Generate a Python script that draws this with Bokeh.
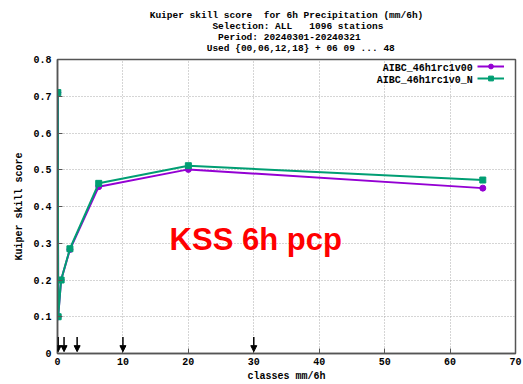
from bokeh.plotting import figure
from bokeh.models import (Range1d, FixedTicker, Title, Label, Arrow, NormalHead,
                          Legend, LegendItem)
from bokeh.embed import file_html
from bokeh.resources import INLINE

# ---- data ----
classes = [0.05, 0.1, 0.55, 1.9, 6.3, 20, 65]
kss_v00 = [0.71, 0.10, 0.20, 0.283, 0.454, 0.501, 0.450]
kss_v0N = [0.71, 0.10, 0.20, 0.285, 0.463, 0.511, 0.472]
thresholds = [0.1, 1, 3, 10, 30]
series_names = ["AIBC_46h1rc1v00", "AIBC_46h1rc1v0_N"]
title_lines = ["Kuiper skill score  for 6h Precipitation (mm/6h)",
               "Selection: ALL   1096 stations",
               "Period: 20240301-20240321",
               "Used {00,06,12,18} + 06 09 ... 48"]
title_indent = [0, 11, 12, 10]
x_ticks = [0, 10, 20, 30, 40, 50, 60, 70]
y_ticks = [0, 0.1, 0.2, 0.3, 0.4, 0.5, 0.6, 0.7, 0.8]

MONO = "Liberation Mono"
purple = "#9400d3"
green = "#009e73"

p = figure(width=523, height=384, output_backend="svg", toolbar_location=None,
           x_range=Range1d(0, 70), y_range=Range1d(0, 0.8),
           min_border_left=57, min_border_right=8, min_border_top=59,
           min_border_bottom=30)
p.background_fill_color = "white"
p.border_fill_color = "white"
p.outline_line_color = "#555555"
p.outline_line_width = 1.5

width = max(len(s) for s in title_lines)
block = "\n".join(("\u00a0" * n + s).ljust(width, " ").replace(" ", "\u00a0")
                  for n, s in zip(title_indent, title_lines))
t = Title(text=block, align="center", text_font=MONO, text_font_size="9.5px",
          text_font_style="bold", text_color="black", standoff=12,
          text_line_height=1.0)
p.add_layout(t, "above")

for ax in (p.xaxis[0], p.yaxis[0]):
    ax.major_tick_in = 5
    ax.major_tick_out = 0
    ax.minor_tick_in = 0
    ax.minor_tick_out = 0
    ax.axis_line_color = "#555555"
    ax.axis_line_width = 1.5
    ax.major_tick_line_color = "#555555"
    ax.major_label_text_font = MONO
    ax.major_label_text_font_style = "bold"
    ax.major_label_text_font_size = "10px"
    ax.major_label_text_color = "black"
    ax.axis_label_text_font = MONO
    ax.axis_label_text_font_style = "bold"
    ax.axis_label_text_font_size = "10px"
    ax.axis_label_text_color = "black"

p.xaxis.ticker = FixedTicker(ticks=x_ticks)
p.yaxis.ticker = FixedTicker(ticks=y_ticks)
p.yaxis.major_label_overrides = {0: "0"}
p.xaxis.axis_label = "classes mm/6h"
p.yaxis.axis_label = "Kuiper skill score"
p.xaxis.major_label_standoff = 4
p.xaxis.axis_label_standoff = 3
p.yaxis.major_label_standoff = 6
p.yaxis.axis_label_standoff = 5

p.grid.grid_line_color = "#aaaaaa"
p.grid.grid_line_dash = "1 2"
p.grid.grid_line_width = 1

l1 = p.line(classes, kss_v00, color=purple, line_width=2)
m1 = p.scatter(classes, kss_v00, marker="circle", size=6, color=purple)
l2 = p.line(classes, kss_v0N, color=green, line_width=2)
m2 = p.scatter(classes, kss_v0N, marker="square", size=6, color=green)

for th in thresholds:
    p.add_layout(Arrow(x_start=th, y_start=0.045, x_end=th, y_end=0.005,
                       line_color="black", line_width=1.5,
                       end=NormalHead(size=6, fill_color="black", line_color="black")))

# legend: glyphs on the right, labels drawn as right-aligned text
legend = Legend(items=[LegendItem(label=" ", renderers=[l1, m1]),
                       LegendItem(label=" ", renderers=[l2, m2])],
                location=(420, 269), background_fill_alpha=0, border_line_alpha=0,
                label_text_font_size="1px", label_height=12, glyph_height=12,
                glyph_width=27, spacing=0, padding=0, margin=0,
                label_standoff=0, label_width=0)
p.add_layout(legend)
for i, name in enumerate(series_names):
    p.add_layout(Label(x=63.45, y=0.776 - i * 0.0325, text=name, text_align="right",
                       text_baseline="middle", text_font=MONO,
                       text_font_style="bold", text_font_size="10px",
                       text_color="black"))

p.add_layout(Label(x=30.3, y=0.31, text="KSS 6h pcp", text_align="center",
                   text_baseline="middle", text_font="Liberation Sans",
                   text_font_style="bold", text_font_size="31px", text_color="#ff0000"))

open("out.html", "w").write(file_html(p, INLINE))
